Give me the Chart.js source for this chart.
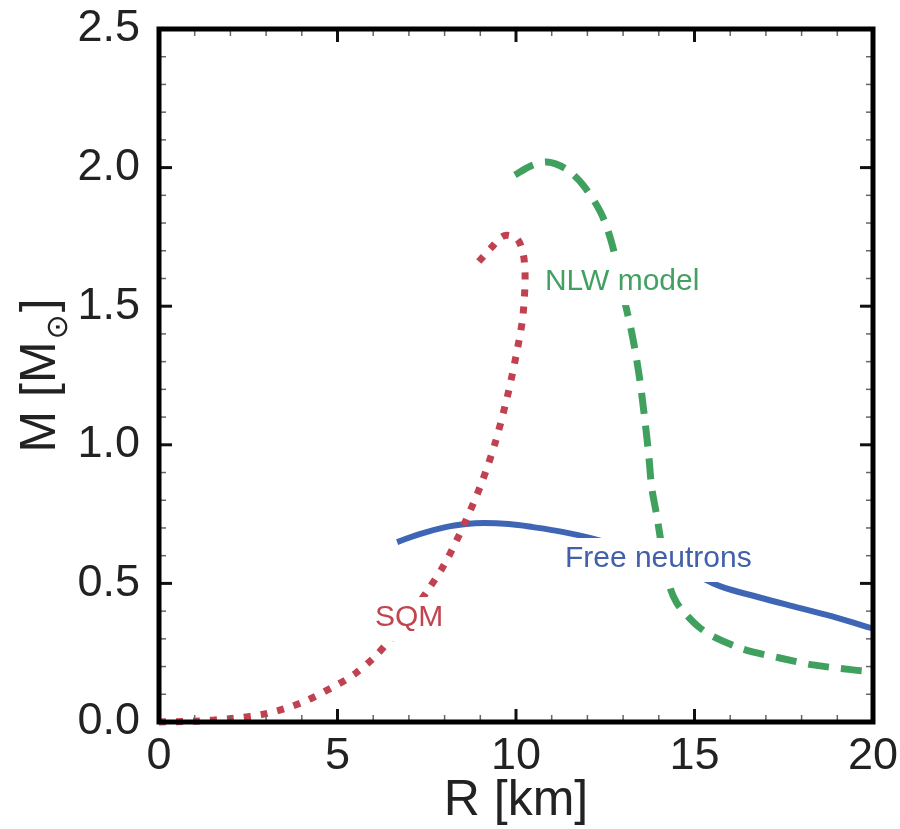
<!DOCTYPE html>
<html>
<head>
<meta charset="utf-8">
<script src="https://cdn.jsdelivr.net/npm/chart.js@4"></script>
<style>
  body { margin: 0; background: #fff; }
  #wrap { width: 900px; height: 829px; }
</style>
</head>
<body>
<div id="wrap"><canvas id="mr_chart" width="900" height="829"></canvas></div>
<script>
// 질량-반경 곡선 데이터 (R: km, M: 태양질량)
var sqmR = [0, 1, 2, 3, 4, 5, 5.5, 6, 6.5, 7, 7.5, 8, 8.5, 9, 9.4, 9.75, 10.0, 10.18, 10.25, 10.25, 10.2, 10.05, 9.8, 9.6, 9.3, 8.95];
var sqmM = [0, 0.003, 0.012, 0.03, 0.07, 0.135, 0.175, 0.23, 0.3, 0.38, 0.47, 0.57, 0.7, 0.85, 1.0, 1.17, 1.32, 1.45, 1.57, 1.63, 1.69, 1.74, 1.755, 1.75, 1.71, 1.66];

var nlwR = [9.97, 10.4, 10.87, 11.4, 11.88, 12.38, 12.69, 12.95, 13.25, 13.45, 13.6, 13.72, 13.8, 13.95, 14.1, 14.31, 14.5, 14.75, 15.1, 15.5, 16.36, 17.39, 18.32, 19.44, 20];
var nlwM = [1.973, 2.005, 2.02, 1.995, 1.937, 1.836, 1.724, 1.57, 1.40, 1.25, 1.10, 0.96, 0.847, 0.739, 0.62, 0.487, 0.43, 0.39, 0.345, 0.31, 0.263, 0.231, 0.206, 0.188, 0.182];

var freeR = [6.67, 7.3, 8.0, 8.6, 9.1, 9.8, 10.48, 11.3, 12.07, 13.0, 14.0, 15.0, 15.71, 16.8, 17.96, 19.0, 19.83, 20];
var freeM = [0.649, 0.678, 0.702, 0.714, 0.718, 0.714, 0.703, 0.686, 0.664, 0.63, 0.585, 0.533, 0.49, 0.45, 0.411, 0.376, 0.343, 0.338];

// 곡선 이름표 (위치는 데이터 좌표)
var curveLabels = [
	{ text: 'NLW model', r: 10.81, m: 1.587, color: '#43a063' },
	{ text: 'Free neutrons', r: 11.37, m: 0.588, color: '#4260aa' },
	{ text: 'SQM', r: 6.05, m: 0.375, color: '#c2444f' }
];

var xMin = 0, xMax = 20, xStep = 5, xMinor = 1;
var yMin = 0, yMax = 2.5, yStep = 0.5, yMinor = 0.1;

function toPoints(rs, ms) {
	return rs.map((r, i) => ({ x: r, y: ms[i] }));
}

var FONT = "'Liberation Sans', Arial, Helvetica, sans-serif";

// 이름표 뒤에 흰 박스를 깔고 글자 그리기
var curveLabelPlugin = {
	id: 'curveLabels',
	afterDatasetsDraw(chart) {
		var ctx = chart.ctx;
		var xs = chart.scales.x, ys = chart.scales.y;
		ctx.save();
		ctx.font = '30px ' + FONT;
		ctx.textAlign = 'left';
		ctx.textBaseline = 'middle';
		curveLabels.forEach(lb => {
			var px = xs.getPixelForValue(lb.r);
			var py = ys.getPixelForValue(lb.m);
			var w = ctx.measureText(lb.text).width;
			ctx.fillStyle = '#ffffff';
			ctx.fillRect(px - 6, py - 21, w + 12, 44);
			ctx.fillStyle = lb.color;
			ctx.fillText(lb.text, px, py);
		});
		ctx.restore();
	}
};

// 테두리 + 안쪽 눈금 (네 변 모두)
var frameTickPlugin = {
	id: 'frameTicks',
	afterDraw(chart) {
		var ctx = chart.ctx;
		var a = chart.chartArea;
		var xs = chart.scales.x, ys = chart.scales.y;
		ctx.save();
		function tick(x1, y1, x2, y2, major) {
			ctx.beginPath();
			ctx.lineWidth = major ? 3 : 1.5;
			ctx.strokeStyle = major ? '#111' : '#666';
			ctx.moveTo(x1, y1);
			ctx.lineTo(x2, y2);
			ctx.stroke();
		}
		for (var i = 1; i < Math.round((xMax - xMin) / xMinor); i++) {
			var v = xMin + i * xMinor;
			var major = Math.abs(v / xStep - Math.round(v / xStep)) < 1e-6;
			var len = major ? 13 : 7;
			var px = xs.getPixelForValue(v);
			tick(px, a.bottom, px, a.bottom - len, major);
			tick(px, a.top, px, a.top + len, major);
		}
		for (var j = 1; j < Math.round((yMax - yMin) / yMinor); j++) {
			var w = yMin + j * yMinor;
			var majorY = Math.abs(w / yStep - Math.round(w / yStep)) < 1e-6;
			var lenY = majorY ? 13 : 7;
			var py = ys.getPixelForValue(w);
			tick(a.left, py, a.left + lenY, py, majorY);
			tick(a.right, py, a.right - lenY, py, majorY);
		}
		ctx.lineWidth = 5;
		ctx.strokeStyle = '#000';
		ctx.strokeRect(a.left, a.top, a.right - a.left, a.bottom - a.top);
		ctx.restore();
	}
};

// y축 제목: M [M⊙] (⊙ 아래첨자)
var yTitlePlugin = {
	id: 'yTitle',
	afterDraw(chart) {
		var ctx = chart.ctx;
		var a = chart.chartArea;
		ctx.save();
		var main = '50px ' + FONT;
		var sub = '30px DejaVu Sans, ' + FONT;
		ctx.font = main;
		var w1 = ctx.measureText('M [M').width;
		var w3 = ctx.measureText(']').width;
		ctx.font = sub;
		var w2 = ctx.measureText('\u2299').width + 4;
		var total = w1 + w2 + w3;
		ctx.translate(55, (a.top + a.bottom) / 2);
		ctx.rotate(-Math.PI / 2);
		ctx.fillStyle = '#222';
		ctx.textBaseline = 'alphabetic';
		ctx.textAlign = 'left';
		var x0 = -total / 2;
		ctx.font = main;
		ctx.fillText('M [M', x0, 0);
		ctx.font = sub;
		ctx.fillText('\u2299', x0 + w1 + 2, 12);
		ctx.font = main;
		ctx.fillText(']', x0 + w1 + w2, 0);
		ctx.restore();
	}
};

var myChart = new Chart(document.getElementById('mr_chart'), {
	type: 'scatter',
	data: {
		datasets: [{
			label: 'SQM',
			data: toPoints(sqmR, sqmM),
			showLine: true,
			borderColor: '#c0414f',
			borderWidth: 7,
			borderDash: [7, 10],
			borderCapStyle: 'butt',
			pointRadius: 0,
			tension: 0.3,
			fill: false
		}, {
			label: 'NLW model',
			data: toPoints(nlwR, nlwM),
			showLine: true,
			borderColor: '#40a15f',
			borderWidth: 7,
			borderDash: [21, 12],
			borderCapStyle: 'butt',
			pointRadius: 0,
			tension: 0.3,
			fill: false
		}, {
			label: 'Free neutrons',
			data: toPoints(freeR, freeM),
			showLine: true,
			borderColor: '#3f66b4',
			borderWidth: 6,
			pointRadius: 0,
			tension: 0.4,
			fill: false
		}]
	},
	options: {
		responsive: false,
		animation: false,
		clip: false,
		layout: {
			padding: { top: 29, right: 27, left: 0, bottom: 0 }
		},
		plugins: {
			legend: { display: false },
			tooltip: { enabled: false }
		},
		scales: {
			x: {
				type: 'linear',
				min: xMin,
				max: xMax,
				grid: { display: false, drawTicks: false },
				border: { display: false },
				ticks: {
					stepSize: xStep,
					padding: 8,
					color: '#222',
					font: { size: 45, family: FONT },
					maxRotation: 0
				},
				title: {
					display: true,
					text: 'R [km]',
					color: '#222',
					font: { size: 50, family: FONT, lineHeight: 1 },
					padding: { top: 0, bottom: 3 }
				},
				afterFit(scale) {
					scale.height = 107;
					scale.paddingLeft = 0;
					scale.paddingRight = 0;
				}
			},
			y: {
				type: 'linear',
				min: yMin,
				max: yMax,
				grid: { display: false, drawTicks: false },
				border: { display: false },
				ticks: {
					stepSize: yStep,
					padding: 19,
					color: '#222',
					font: { size: 45, family: FONT },
					callback: v => Number(v).toFixed(1)
				},
				afterFit(scale) {
					scale.width = 159;
					scale.paddingTop = 0;
					scale.paddingBottom = 0;
				}
			}
		}
	},
	plugins: [curveLabelPlugin, frameTickPlugin, yTitlePlugin]
});
</script>
</body>
</html>
